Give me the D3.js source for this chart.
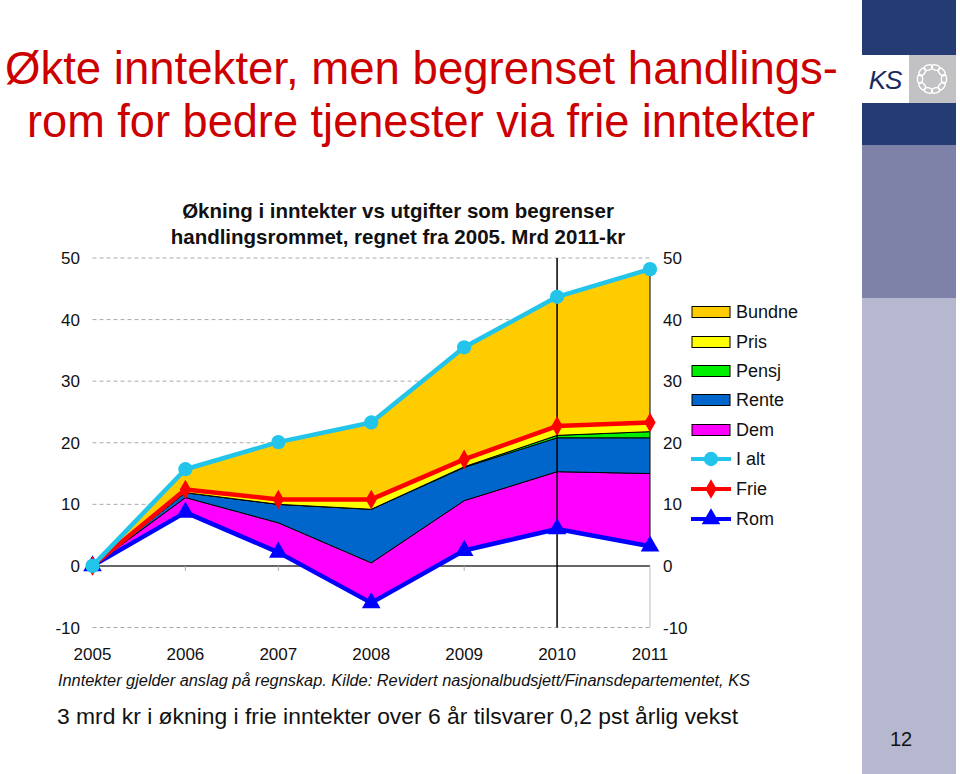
<!DOCTYPE html>
<html>
<head>
<meta charset="utf-8">
<script src="https://cdn.jsdelivr.net/npm/d3@7"></script>
<style>
  html, body { margin: 0; padding: 0; background: #fff; }
  svg { display: block; }
</style>
</head>
<body>
<svg id="chart" width="960" height="774"></svg>
<script>
// ---------------- DATA ----------------
const years = ["2005", "2006", "2007", "2008", "2009", "2010", "2011"];
const rom    = [0, 8.7, 2.2, -6.0, 2.5, 6.0, 3.2];
const dem    = [0, 2.4, 4.8, 6.5, 8.1, 9.3, 11.8];
const rente  = [0, 0.8, 3.0, 8.7, 5.4, 5.5, 5.8];
const pensj  = [0, 0.0, 0.0, 0.0, 0.1, 0.4, 1.0];
const pris   = [0, 0.5, 0.8, 1.6, 1.2, 1.5, 1.5];
const bundne = [0, 3.3, 9.3, 12.5, 18.2, 21.0, 24.9];
const ialt   = [0, 15.7, 20.1, 23.3, 35.5, 43.7, 48.2];
const frie   = [0, 12.4, 10.8, 10.8, 17.3, 22.7, 23.3];
const yTicks = [-10, 0, 10, 20, 30, 40, 50];
const areaKeys   = ["Rom", "Dem", "Rente", "Pensj", "Pris", "Bundne"];
const legendAreas = ["Bundne", "Pris", "Pensj", "Rente", "Dem"];
const legendLines = ["I alt", "Frie", "Rom"];

const colors = {
  Bundne: "#FFCC00", Pris: "#FFFF00", Pensj: "#00EE00", Rente: "#0066CC", Dem: "#FF00FF",
  "I alt": "#22C4EA", Frie: "#FF0000", Rom: "#0000FF"
};

const svg = d3.select("#chart");

// ---------------- Right-hand decoration ----------------
const deco = svg.append("g");
deco.append("rect").attr("x", 862).attr("y", 0).attr("width", 94).attr("height", 55).attr("fill", "#253B73");
deco.append("rect").attr("x", 862).attr("y", 55).attr("width", 47).attr("height", 48).attr("fill", "#ffffff");
deco.append("rect").attr("x", 909).attr("y", 55).attr("width", 47).attr("height", 48).attr("fill", "#C2C2C4");
deco.append("rect").attr("x", 862).attr("y", 103).attr("width", 94).attr("height", 42).attr("fill", "#253B73");
deco.append("rect").attr("x", 862).attr("y", 145).attr("width", 94).attr("height", 153).attr("fill", "#7E82A8");
deco.append("rect").attr("x", 862).attr("y", 298).attr("width", 94).attr("height", 476).attr("fill", "#B6B8D0");
deco.append("text").attr("x", 885).attr("y", 89).attr("text-anchor", "middle")
  .attr("font-family", "Liberation Sans, Arial, sans-serif").attr("font-style", "italic")
  .attr("font-size", 26).attr("fill", "#1B2A5E").attr("letter-spacing", -1).text("KS");
const ringN = 10;
d3.range(ringN).forEach(i => {
  const a = i / ringN * 2 * Math.PI;
  deco.append("ellipse")
    .attr("cx", 932 + 12 * Math.cos(a)).attr("cy", 79 + 12 * Math.sin(a))
    .attr("rx", 4.2).attr("ry", 2.6)
    .attr("transform", `rotate(${a * 180 / Math.PI + 90},${932 + 12 * Math.cos(a)},${79 + 12 * Math.sin(a)})`)
    .attr("fill", "none").attr("stroke", "#ffffff").attr("stroke-width", 1.4);
});
deco.append("text").attr("x", 901).attr("y", 746).attr("text-anchor", "middle")
  .attr("font-family", "Liberation Sans, Arial, sans-serif").attr("font-size", 20).attr("fill", "#111").text("12");

// ---------------- Main title ----------------
const title = svg.append("g").attr("font-family", "Liberation Sans, Arial, sans-serif")
  .attr("font-size", 45.5).attr("fill", "#CC0000");
title.append("text").attr("x", 5).attr("y", 84)
  .attr("textLength", 833).attr("lengthAdjust", "spacingAndGlyphs")
  .text("Økte inntekter, men begrenset handlings-");
title.append("text").attr("x", 27).attr("y", 137)
  .attr("textLength", 788).attr("lengthAdjust", "spacingAndGlyphs")
  .text("rom for bedre tjenester via frie inntekter");

// ---------------- Chart ----------------
const x = d3.scalePoint().domain(years).range([92.5, 650]);
const y = d3.scaleLinear().domain([-10, 50]).range([627.5, 258]);

const ctitle = svg.append("g").attr("font-family", "Liberation Sans, Arial, sans-serif")
  .attr("font-weight", "bold").attr("font-size", 20.5).attr("fill", "#111").attr("text-anchor", "middle");
ctitle.append("text").attr("x", 398).attr("y", 218).text("Økning i inntekter vs utgifter som begrenser");
ctitle.append("text").attr("x", 398).attr("y", 244).text("handlingsrommet, regnet fra 2005. Mrd 2011-kr");

// gridlines (dashed) except 0
svg.append("g").selectAll("line").data(yTicks.filter(d => d !== 0)).join("line")
  .attr("x1", x("2005")).attr("x2", x("2011"))
  .attr("y1", d => y(d)).attr("y2", d => y(d))
  .attr("stroke", "#AAAAAA").attr("stroke-width", 1).attr("stroke-dasharray", "4,3");

// zero line and small ticks
svg.append("line").attr("x1", x("2005")).attr("x2", x("2011")).attr("y1", y(0)).attr("y2", y(0))
  .attr("stroke", "#333").attr("stroke-width", 1.5);
svg.append("g").selectAll("line").data(years.slice(1, 5)).join("line")
  .attr("x1", d => x(d)).attr("x2", d => x(d)).attr("y1", y(0)).attr("y2", y(0) + 5)
  .attr("stroke", "#AAA").attr("stroke-width", 1);
svg.append("line").attr("x1", x("2011")).attr("x2", x("2011")).attr("y1", y(0)).attr("y2", y(-10))
  .attr("stroke", "#BBBBBB").attr("stroke-width", 1);

// axis labels
const axisFont = "Liberation Sans, Arial, sans-serif";
svg.append("g").selectAll("text").data(yTicks).join("text")
  .attr("x", 80).attr("y", d => y(d) + 6).attr("text-anchor", "end")
  .attr("font-family", axisFont).attr("font-size", 17).attr("fill", "#111").text(d => d);
svg.append("g").selectAll("text").data(yTicks).join("text")
  .attr("x", 663).attr("y", d => y(d) + 6).attr("text-anchor", "start")
  .attr("font-family", axisFont).attr("font-size", 17).attr("fill", "#111").text(d => d);
svg.append("g").selectAll("text").data(years).join("text")
  .attr("x", d => x(d)).attr("y", 660).attr("text-anchor", "middle")
  .attr("font-family", axisFont).attr("font-size", 17).attr("fill", "#111").text(d => d);

// stacked areas
const series = { Rom: rom, Dem: dem, Rente: rente, Pensj: pensj, Pris: pris, Bundne: bundne };
const table = years.map((yr, i) => {
  const o = { year: yr };
  areaKeys.forEach(k => o[k] = series[k][i]);
  return o;
});
const stack = d3.stack().keys(areaKeys).offset(d3.stackOffsetNone);
const stacked = stack(table);
const area = d3.area().x(d => x(d.data.year)).y0(d => y(d[0])).y1(d => y(d[1]));
svg.append("g").selectAll("path").data(stacked.filter(s => s.key !== "Rom")).join("path")
  .attr("d", area).attr("fill", s => colors[s.key])
  .attr("stroke", "#000").attr("stroke-width", 1).attr("stroke-linejoin", "round");

// vertical black line at 2010
svg.append("line").attr("x1", x("2010")).attr("x2", x("2010")).attr("y1", y(50)).attr("y2", y(-10))
  .attr("stroke", "#000").attr("stroke-width", 1.5);

// lines with markers
const lineGen = d3.line().x((d, i) => x(years[i])).y(d => y(d));
const lineSeries = [
  { key: "Rom", values: rom, symbol: d3.symbolTriangle, size: 150 },
  { key: "Frie", values: frie, symbol: d3.symbolDiamond, size: 110 },
  { key: "I alt", values: ialt, symbol: d3.symbolCircle, size: 160 }
];
lineSeries.forEach(s => {
  const g = svg.append("g");
  g.append("path").attr("d", lineGen(s.values)).attr("fill", "none")
    .attr("stroke", colors[s.key]).attr("stroke-width", 4.5).attr("stroke-linejoin", "round");
  g.selectAll("path.m").data(s.values).join("path").attr("class", "m")
    .attr("transform", (d, i) => `translate(${x(years[i])},${y(d)})`)
    .attr("d", d3.symbol().type(s.symbol).size(s.size)())
    .attr("fill", colors[s.key]);
});

// legend
const lg = svg.append("g").attr("font-family", axisFont).attr("font-size", 18).attr("fill", "#111");
const rowY = [312, 342, 371, 400, 430, 459, 489, 519];
legendAreas.forEach((k, i) => {
  lg.append("rect").attr("x", 692).attr("y", rowY[i] - 5.5).attr("width", 38).attr("height", 11)
    .attr("fill", colors[k]).attr("stroke", "#000").attr("stroke-width", 1);
  lg.append("text").attr("x", 736).attr("y", rowY[i] + 6).text(k);
});
legendLines.forEach((k, j) => {
  const i = j + legendAreas.length;
  const s = lineSeries.find(d => d.key === k);
  lg.append("line").attr("x1", 691).attr("x2", 731).attr("y1", rowY[i]).attr("y2", rowY[i])
    .attr("stroke", colors[k]).attr("stroke-width", 4);
  lg.append("path").attr("transform", `translate(711,${rowY[i]})`)
    .attr("d", d3.symbol().type(s.symbol).size(s.size)()).attr("fill", colors[k]);
  lg.append("text").attr("x", 736).attr("y", rowY[i] + 6).text(k);
});

// footnotes
svg.append("text").attr("x", 58).attr("y", 686)
  .attr("font-family", axisFont).attr("font-style", "italic").attr("font-size", 16).attr("fill", "#111")
  .attr("textLength", 692).attr("lengthAdjust", "spacingAndGlyphs")
  .text("Inntekter gjelder anslag på regnskap. Kilde: Revidert nasjonalbudsjett/Finansdepartementet, KS");
svg.append("text").attr("x", 57).attr("y", 724)
  .attr("font-family", axisFont).attr("font-size", 22.5).attr("fill", "#111")
  .attr("textLength", 681).attr("lengthAdjust", "spacingAndGlyphs")
  .text("3 mrd kr i økning i frie inntekter over 6 år tilsvarer 0,2 pst årlig vekst");
</script>
</body>
</html>
